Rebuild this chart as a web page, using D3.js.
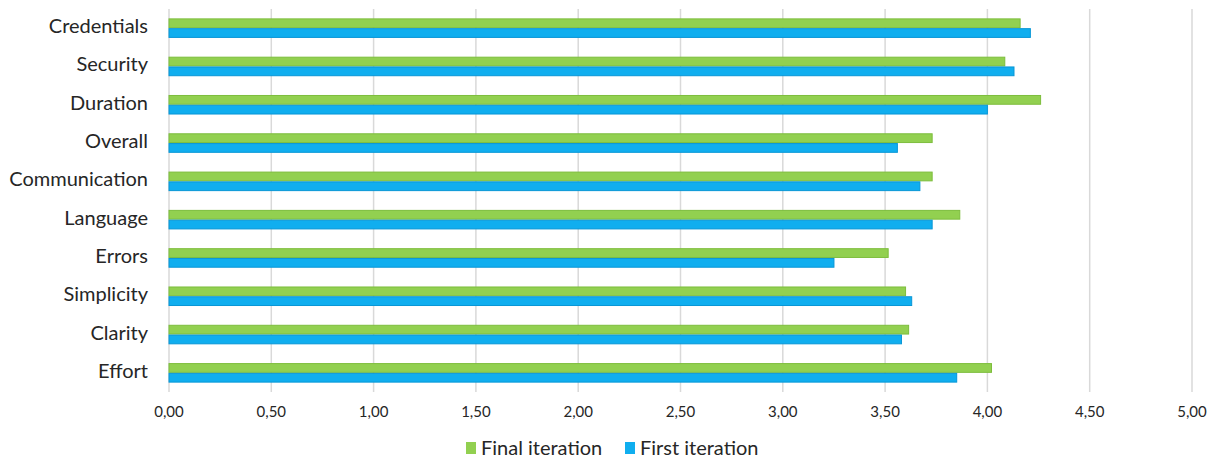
<!DOCTYPE html>
<html>
<head>
<meta charset="utf-8">
<script src="https://cdn.jsdelivr.net/npm/d3@7"></script>
<style>
  body { margin: 0; background: #fff; }
  text { font-family: Lato, "Open Sans", sans-serif; fill: #262626; }
</style>
</head>
<body>
<div id="chart"></div>
<script>
// categories top to bottom
var categories = ['Credentials', 'Security', 'Duration', 'Overall', 'Communication',
                  'Language', 'Errors', 'Simplicity', 'Clarity', 'Effort'];
var finalIteration = [4.16, 4.085, 4.26, 3.73, 3.73, 3.865, 3.515, 3.60, 3.615, 4.02];
var firstIteration = [4.21, 4.13, 4.00, 3.56, 3.67, 3.73, 3.25, 3.63, 3.58, 3.85];
var xTicks = [0, 0.5, 1, 1.5, 2, 2.5, 3, 3.5, 4, 4.5, 5];
var seriesNames = ['Final iteration', 'First iteration'];

var width = 1214, height = 459;
var plotLeft = 169, plotRight = 1192, plotTop = 9, plotBottom = 392;

var svg = d3.select('#chart').append('svg')
    .attr('width', width)
    .attr('height', height);

var x = d3.scaleLinear().domain([0, 5]).range([plotLeft, plotRight]);
var y = d3.scaleBand().domain(categories).range([plotTop, plotBottom]).paddingInner(0.49).paddingOuter(0.245);
var sub = d3.scaleBand().domain(seriesNames).range([0, y.bandwidth()]);

var fills = { 'Final iteration': '#92d050', 'First iteration': '#10aeef' };
var strokes = { 'Final iteration': '#7dbd3c', 'First iteration': '#0896d6' };

// gridlines
svg.append('g')
    .selectAll('line')
    .data(xTicks)
    .enter().append('line')
    .attr('x1', function(d){ return x(d); })
    .attr('x2', function(d){ return x(d); })
    .attr('y1', plotTop)
    .attr('y2', plotBottom)
    .attr('stroke', '#d9d9d9')
    .attr('stroke-width', 1.5);

// tick labels
svg.append('g')
    .selectAll('text')
    .data(xTicks)
    .enter().append('text')
    .attr('x', function(d){ return x(d); })
    .attr('y', 417)
    .attr('text-anchor', 'middle')
    .style('font-size', '15px')
    .text(function(d){ return d.toFixed(2).replace('.', ','); });

// category labels
svg.append('g')
    .selectAll('text')
    .data(categories)
    .enter().append('text')
    .attr('x', 148)
    .attr('y', function(d){ return y(d) + y.bandwidth() / 2 - 2; })
    .attr('dy', '0.35em')
    .attr('text-anchor', 'end')
    .style('font-size', '20px')
    .text(function(d){ return d; });

// bars
var rows = categories.map(function(c, i){
    return [
        { cat: c, s: 'Final iteration', v: finalIteration[i] },
        { cat: c, s: 'First iteration', v: firstIteration[i] }
    ];
});

svg.append('g')
    .selectAll('g')
    .data(rows)
    .enter().append('g')
    .attr('transform', function(d){ return 'translate(0,' + y(d[0].cat) + ')'; })
    .selectAll('rect')
    .data(function(d){ return d; })
    .enter().append('rect')
    .attr('x', x(0))
    .attr('y', function(d){ return sub(d.s) + 0.5; })
    .attr('width', function(d){ return x(d.v) - x(0); })
    .attr('height', sub.bandwidth() - 1)
    .attr('fill', function(d){ return fills[d.s]; })
    .attr('stroke', function(d){ return strokes[d.s]; })
    .attr('stroke-width', 1);

// legend
var legend = svg.append('g');
var legendX = [466, 625];
seriesNames.forEach(function(s, i){
    legend.append('rect')
        .attr('x', legendX[i])
        .attr('y', 442)
        .attr('width', 10)
        .attr('height', 12)
        .attr('fill', fills[s]);
    legend.append('text')
        .attr('x', legendX[i] + 15)
        .attr('y', 455)
        .style('font-size', '20px')
        .text(s);
});
</script>
</body>
</html>
